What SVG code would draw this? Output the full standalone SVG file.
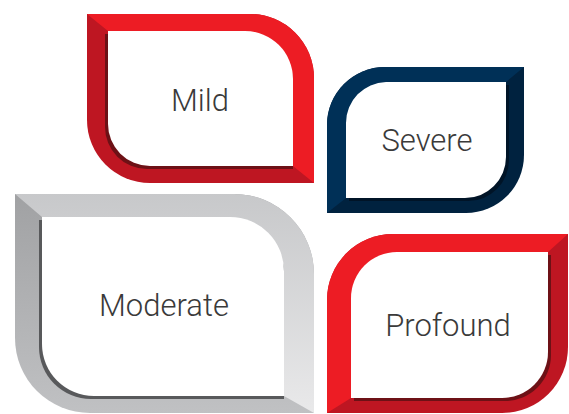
<svg xmlns="http://www.w3.org/2000/svg" width="569" height="414" viewBox="0 0 569 414">
<defs>
<style>
.lbl{font-family:Roboto,"Liberation Sans",sans-serif;font-weight:300;font-size:31px;fill:#3a3a3a;text-anchor:middle}
.white{fill:#ffffff}
</style>
<linearGradient id="gDark" x1="0" y1="0" x2="0" y2="1"><stop offset="0" stop-color="#9fa0a2"/><stop offset="1" stop-color="#c0c1c3"/></linearGradient>
<linearGradient id="gLight" x1="0" y1="0" x2="0" y2="1"><stop offset="0" stop-color="#c6c7c9"/><stop offset="1" stop-color="#e9e9ea"/></linearGradient>
<clipPath id="cMild"><path d="M87 14 H250 A64 64 0 0 1 314 78 V183 H150 A63 63 0 0 1 87 120 Z"/></clipPath>
<clipPath id="cSev"><path d="M385 67 H524 V155 A58 58 0 0 1 466 213 H327 V125 A58 58 0 0 1 385 67 Z"/></clipPath>
<clipPath id="cMod"><path d="M15 194 H234 A80 80 0 0 1 314 274 V413 H90 A75 75 0 0 1 15 338 Z"/></clipPath>
<clipPath id="cPro"><path d="M393 234 H568 V347 A66 66 0 0 1 502 413 H327 V300 A66 66 0 0 1 393 234 Z"/></clipPath>
</defs>

<g id="mild">
<g clip-path="url(#cMild)">
<rect x="80" y="10" width="240" height="180" fill="#be1622"/>
<polygon points="87,14 108,31 293,166 314,183 320,190 320,10 80,10" fill="#ed1c24"/>
</g>
<path d="M105 34 H245 A48 48 0 0 1 293 82 V169 H147 A42 42 0 0 1 105 127 Z" fill="#6d1116"/>
<path d="M108 31 H245 A48 48 0 0 1 293 79 V166 H150 A42 42 0 0 1 108 124 Z" class="white"/>
<text x="200" y="111" class="lbl">Mild</text>
</g>

<g id="severe">
<g clip-path="url(#cSev)">
<rect x="320" y="60" width="210" height="160" fill="#00223f"/>
<polygon points="524,67 506,82 346,198 327,213 320,220 320,60 530,60" fill="#003057"/>
</g>
<path d="M388 85 H509 V160 A41 41 0 0 1 468 201 H349 V126 A41 41 0 0 1 388 85 Z" fill="#001427"/>
<path d="M386 82 H506 V157 A41 41 0 0 1 465 198 H346 V123 A41 41 0 0 1 386 82 Z" class="white"/>
<text x="427" y="151" class="lbl">Severe</text>
</g>

<g id="moderate">
<g clip-path="url(#cMod)">
<rect x="10" y="185" width="310" height="229" fill="url(#gDark)"/>
<polygon points="15,194 42,217 284,396 314,413 320,414 320,185 10,185" fill="url(#gLight)"/>
</g>
<path d="M39 220 H230 A54 54 0 0 1 284 274 V399 H91 A52 52 0 0 1 39 347 Z" fill="#58595b"/>
<path d="M42 217 H230 A54 54 0 0 1 284 271 V396 H94 A52 52 0 0 1 42 344 Z" class="white"/>
<text x="164" y="316" class="lbl">Moderate</text>
</g>

<g id="profound">
<g clip-path="url(#cPro)">
<rect x="320" y="225" width="249" height="189" fill="#be1622"/>
<polygon points="568,234 548,252 351,398 327,413 320,414 320,225 569,225" fill="#ed1c24"/>
</g>
<path d="M399 255 H551 V355 A46 46 0 0 1 505 401 H354 V301 A46 46 0 0 1 399 255 Z" fill="#6d1116"/>
<path d="M397 252 H548 V352 A46 46 0 0 1 502 398 H351 V298 A46 46 0 0 1 397 252 Z" class="white"/>
<text x="448" y="336" class="lbl">Profound</text>
</g>

<g id="connectors"/>
</svg>
